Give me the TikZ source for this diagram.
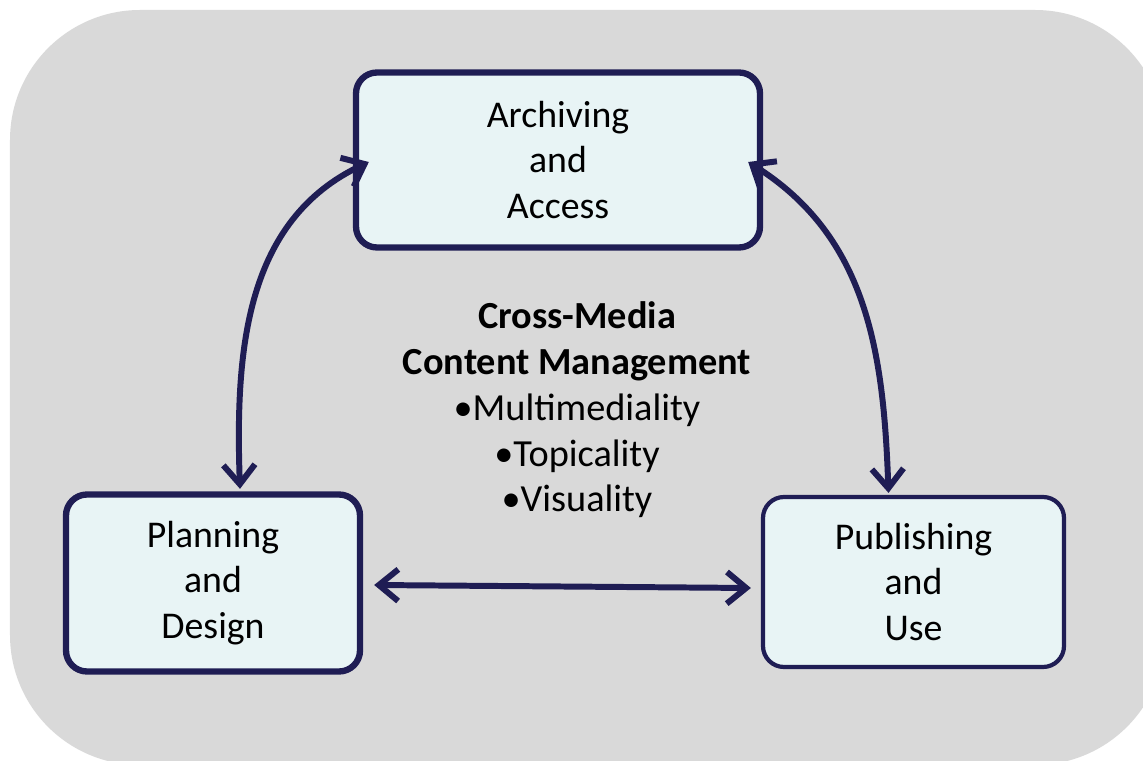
\documentclass[tikz,border=0pt]{standalone}
\usepackage{fontspec}
\setmainfont{Carlito}
\usepackage{xcolor}
\usetikzlibrary{arrows.meta}
\definecolor{navy}{RGB}{31,29,84}
\definecolor{boxfill}{RGB}{232,244,245}
\definecolor{backgray}{RGB}{217,217,217}

\begin{document}
\begin{tikzpicture}[
    phase/.style={rectangle, rounded corners=0.42cm, draw=navy, fill=boxfill,
      line width=3.6pt, align=center, font=\fontsize{21.5}{26}\selectfont},
    link/.style={draw=navy, line width=3.4pt, line cap=round,
      {Straight Barb[length=11pt,width=18pt]}-{Straight Barb[length=11pt,width=18pt]}}]
      \useasboundingbox (0,0) rectangle (22.86,-15.22);
      \clip (0,0) rectangle (22.86,-15.22);
      \fill [backgray, rounded corners=2.6cm] (0.2,-0.2) rectangle (23.3,-15.3);
      \node [phase, minimum width=8.08cm, minimum height=3.5cm] (archive) at (11.16,-3.2)
        {Archiving\\and\\Access};
      \node [phase, minimum width=5.88cm, minimum height=3.54cm] (plan) at (4.26,-11.66)
        {Planning\\and\\Design};
      \node [phase, line width=2.4pt, minimum width=6.02cm, minimum height=3.4cm] (publish) at (18.27,-11.64)
        {Publishing\\and\\Use};
      \node [align=center, font=\fontsize{21.8}{26}\selectfont] (core) at (11.54,-8.2)
        {\textbf{Cross-Media}\\\textbf{Content Management}\\\textbullet Multimediality\\\textbullet Topicality\\\textbullet Visuality};
      % connectors
      \draw [link] ([xshift=0.54cm,yshift=0.05cm]plan.north) to[out=92, in=205] ([xshift=0.32cm,yshift=-0.04cm]archive.west);
      \draw [link] ([xshift=-0.3cm,yshift=-0.04cm]archive.east) to[out=-32, in=92] ([xshift=-0.5cm,yshift=0.04cm]publish.north);
      \draw [link] ([xshift=0.22cm,yshift=-0.04cm]plan.east) -- ([xshift=-0.2cm,yshift=-0.12cm]publish.west);
    \end{tikzpicture}
\end{document}
